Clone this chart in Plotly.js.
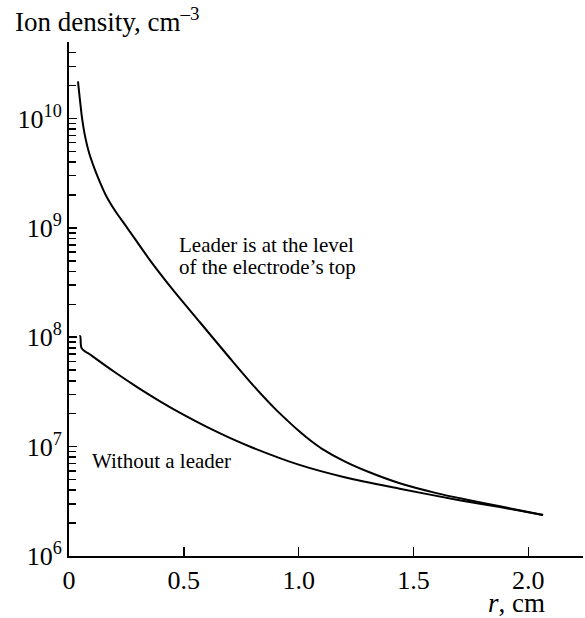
<!DOCTYPE html>
<html>
<head>
<meta charset="utf-8">
<script src="https://cdn.plot.ly/plotly-3.0.1.min.js"></script>
<style>
html,body{margin:0;padding:0;background:#fff;}
#chart{width:585px;height:618px;}
</style>
</head>
<body>
<div id="chart"></div>
<script>
// Radius, cm
const rLeader = [0.039, 0.048, 0.057, 0.070, 0.087, 0.109, 0.135, 0.165, 0.205, 0.252, 0.353, 0.45, 0.57, 0.7, 0.8, 0.9, 0.95, 1.0, 1.05, 1.1, 1.2, 1.3, 1.44, 1.6, 1.733, 1.876, 2.064];
// log10 of ion density, cm^-3 (leader is at the level of the electrode's top)
const logLeader = [10.338, 10.164, 10.0, 9.836, 9.689, 9.553, 9.416, 9.279, 9.142, 9.005, 8.703, 8.44, 8.137, 7.81, 7.565, 7.34, 7.24, 7.145, 7.058, 6.982, 6.865, 6.772, 6.665, 6.575, 6.515, 6.455, 6.374];

// Radius, cm
const rNoLeader = [0.045, 0.049, 0.055, 0.1, 0.2, 0.3, 0.4, 0.5, 0.6, 0.7, 0.8, 1.0, 1.2, 1.44, 1.7, 1.876, 2.064];
// log10 of ion density, cm^-3 (without a leader)
const logNoLeader = [8.01, 8.01, 7.90, 7.83, 7.68, 7.54, 7.41, 7.29, 7.18, 7.08, 6.99, 6.835, 6.72, 6.615, 6.51, 6.447, 6.374];

const xTickVals = [0, 0.5, 1.0, 1.5, 2.0];
const xTickText = ['0', '0.5', '1.0', '1.5', '2.0'];
const yTickVals = [1e6, 1e7, 1e8, 1e9, 1e10];
const yTickText = ['10<sup>6</sup>', '10<sup>7</sup>', '10<sup>8</sup>', '10<sup>9</sup>', '10<sup>10</sup>'];

const densLeader = logLeader.map(v => Math.pow(10, v));
const densNoLeader = logNoLeader.map(v => Math.pow(10, v));

const minorVals = [];
for (let e = 6; e <= 10; e++) for (let m = 2; m <= 9; m++) { const v = m * Math.pow(10, e); if (v <= 5.01e10) minorVals.push(v); }

const serif = 'Liberation Serif';
const lineStyle = {color: '#000', width: 2, shape: 'spline', smoothing: 0.8};

const data = [
  {x: rLeader, y: densLeader, mode: 'lines', line: lineStyle, hoverinfo: 'skip'},
  {x: rNoLeader, y: densNoLeader, mode: 'lines', line: lineStyle, hoverinfo: 'skip'}
];

const layout = {
  width: 585, height: 618,
  margin: {l: 69, r: 2, t: 42, b: 62},
  paper_bgcolor: '#fff', plot_bgcolor: '#fff',
  showlegend: false,
  font: {family: serif, size: 26, color: '#000'},
  xaxis: {
    range: [0, 2.238], showgrid: false, zeroline: false,
    showline: true, linecolor: '#000', linewidth: 2,
    ticks: 'inside', ticklen: 9, tickwidth: 1.5, tickcolor: '#000',
    tickmode: 'array', tickvals: xTickVals, ticktext: xTickText,
    tickfont: {family: serif, size: 26, color: '#000'}
  },
  yaxis: {
    type: 'log', range: [6, Math.log10(5e10)], showgrid: false, zeroline: false,
    showline: true, linecolor: '#000', linewidth: 2,
    ticks: 'inside', ticklen: 8, tickwidth: 1.5, tickcolor: '#000',
    tickmode: 'array', tickvals: yTickVals, ticktext: yTickText,
    tickfont: {family: serif, size: 26, color: '#000'},
    minor: {tickmode: 'array', tickvals: minorVals, ticks: 'inside', ticklen: 7, tickwidth: 1.5, tickcolor: '#000'}
  },
  annotations: [
    {xref: 'paper', yref: 'paper', x: -69/514, y: 1 + 42/514, xanchor: 'left', yanchor: 'top', xshift: 13, yshift: -1,
     text: 'Ion density, cm<sup>–3</sup>', showarrow: false, font: {family: serif, size: 27, color: '#000'}},
    {xref: 'paper', yref: 'paper', x: 1, y: 0, xanchor: 'right', yanchor: 'top', xshift: -36, yshift: -30,
     text: '<i>r</i>, cm', showarrow: false, font: {family: serif, size: 27, color: '#000'}},
    {xref: 'x', yref: 'paper', x: 0.47, y: 1, xanchor: 'left', yanchor: 'top', yshift: -189, align: 'left',
     text: 'Leader is at the level', showarrow: false, font: {family: serif, size: 21, color: '#000'}},
    {xref: 'x', yref: 'paper', x: 0.47, y: 1, xanchor: 'left', yanchor: 'top', yshift: -211, align: 'left',
     text: 'of the electrode’s top', showarrow: false, font: {family: serif, size: 21, color: '#000'}},
    {xref: 'x', yref: 'paper', x: 0.09, y: 1, xanchor: 'left', yanchor: 'top', yshift: -405, align: 'left',
     text: 'Without a leader', showarrow: false, font: {family: serif, size: 21, color: '#000'}}
  ]
};

Plotly.newPlot('chart', data, layout, {displayModeBar: false, staticPlot: true});
</script>
</body>
</html>
